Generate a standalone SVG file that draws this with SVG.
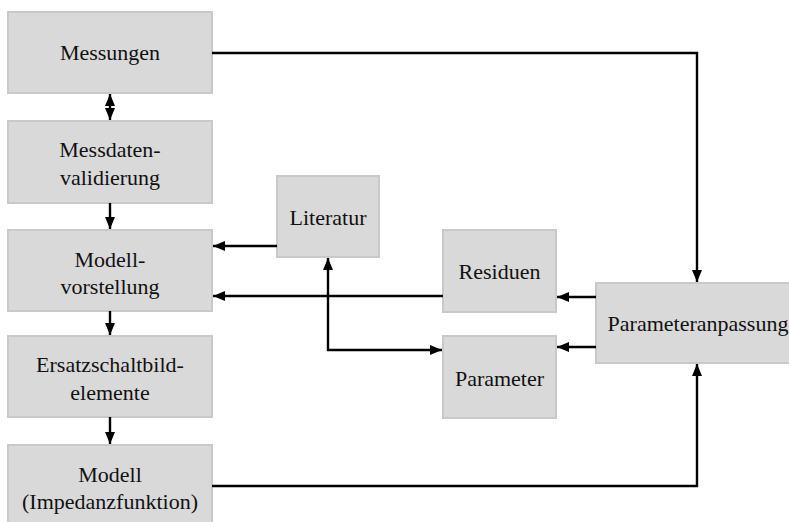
<svg xmlns="http://www.w3.org/2000/svg" width="789" height="522" viewBox="0 0 789 522">
<defs>
<style>
.box{fill:#d9d9d9;stroke:#c9c9c9;stroke-width:2}
.t{font-family:"Liberation Serif","Times New Roman",serif;font-size:22px;fill:#111;text-anchor:middle}
.c{fill:none;stroke:#000;stroke-width:2.4}
</style>
<marker id="ah" markerUnits="userSpaceOnUse" markerWidth="14" markerHeight="12" refX="12" refY="5" orient="auto-start-reverse">
<path d="M0,0 L12,5 L0,10 Z" fill="#000"/>
</marker>
</defs>
<rect width="789" height="522" fill="#fff"/>
<g id="n-messungen"><rect class="box" x="8" y="12" width="204" height="81"/><text class="t" x="110" y="60">Messungen</text></g>
<g id="n-messdaten"><rect class="box" x="8" y="121" width="204" height="82"/><text class="t" x="110" y="157">Messdaten-</text><text class="t" x="110" y="185">validierung</text></g>
<g id="n-modellvorstellung"><rect class="box" x="8" y="230" width="204" height="81"/><text class="t" x="110" y="267">Modell-</text><text class="t" x="110" y="294">vorstellung</text></g>
<g id="n-ersatz"><rect class="box" x="8" y="336" width="204" height="81"/><text class="t" x="110" y="372">Ersatzschaltbild-</text><text class="t" x="110" y="400">elemente</text></g>
<g id="n-modell"><rect class="box" x="8" y="445" width="204" height="82"/><text class="t" x="110" y="482">Modell</text><text class="t" x="110" y="509">(Impedanzfunktion)</text></g>
<g id="n-literatur"><rect class="box" x="277" y="176" width="102" height="81"/><text class="t" x="328" y="225">Literatur</text></g>
<g id="n-residuen"><rect class="box" x="443" y="230" width="113" height="82"/><text class="t" x="499.5" y="279">Residuen</text></g>
<g id="n-parameter"><rect class="box" x="443" y="336" width="113" height="82"/><text class="t" x="499.5" y="386">Parameter</text></g>
<g id="n-parameteranpassung"><rect class="box" x="596" y="283" width="204" height="80"/><text class="t" x="698" y="331">Parameteranpassung</text></g>
<g id="connectors">
<path class="c" d="M110,94 L110,120" marker-start="url(#ah)" marker-end="url(#ah)"/>
<path class="c" d="M110,203 L110,229" marker-end="url(#ah)"/>
<path class="c" d="M110,311 L110,335" marker-end="url(#ah)"/>
<path class="c" d="M110,417 L110,444" marker-end="url(#ah)"/>
<path class="c" d="M212,53 L697,53 L697,282" marker-end="url(#ah)"/>
<path class="c" d="M212,486 L697,486 L697,364" marker-end="url(#ah)"/>
<path class="c" d="M277,246 L213,246" marker-end="url(#ah)"/>
<path class="c" d="M443,296 L213,296" marker-end="url(#ah)"/>
<path class="c" d="M328,258 L328,350 L442,350" marker-start="url(#ah)" marker-end="url(#ah)"/>
<path class="c" d="M596,297 L557,297" marker-end="url(#ah)"/>
<path class="c" d="M596,347 L557,347" marker-end="url(#ah)"/>
</g>
</svg>
